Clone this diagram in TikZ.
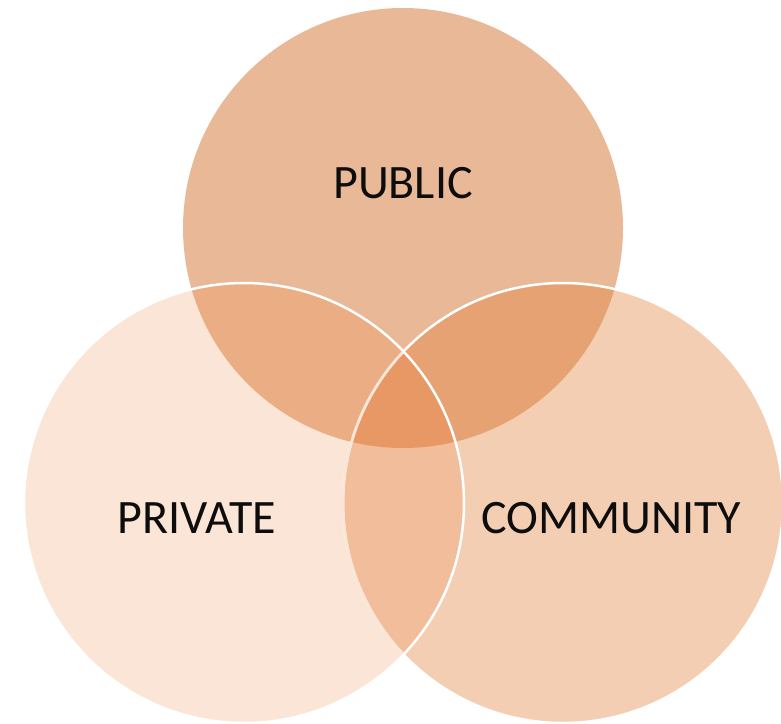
\documentclass[tikz,border=0pt]{standalone}
\usepackage{fontspec}
\setmainfont{Carlito}
\definecolor{ctop}{RGB}{233,184,150}
\definecolor{cleft}{RGB}{250,229,214}
\definecolor{cright}{RGB}{243,206,179}
\definecolor{ctl}{RGB}{234,173,132}
\definecolor{ctr}{RGB}{230,162,114}
\definecolor{clr}{RGB}{242,189,154}
\definecolor{ccenter}{RGB}{231,152,100}
\definecolor{txt}{RGB}{13,13,13}
\tikzset{
  lbl/.style={text=txt, font=\fontsize{48}{52}\selectfont, inner sep=0pt},
  rim/.style={draw=white, line width=2.5pt}
}
\begin{document}
\begin{tikzpicture}[x=1pt,y=-1pt]
\useasboundingbox (0,0) rectangle (781,723);
\coordinate (T) at (403,228);
\coordinate (L) at (244,503);
\coordinate (R) at (563,503);
\def\rr{220}
% top circle
\fill[ctop] (T) circle (\rr);
% left circle
\fill[cleft] (L) circle (\rr);
\begin{scope}
  \clip (T) circle (\rr);
  \fill[ctl] (L) circle (\rr);
\end{scope}
% right circle
\fill[cright] (R) circle (\rr);
\begin{scope}
  \clip (R) circle (\rr);
  \fill[ctr] (T) circle (\rr);
  \fill[clr] (L) circle (\rr);
  \begin{scope}
    \clip (L) circle (\rr);
    \fill[ccenter] (T) circle (\rr);
  \end{scope}
\end{scope}
% borders
\draw[rim] (R) circle (\rr);
\begin{scope}
  \clip (L) circle (\rr);
  \draw[rim, draw=cleft] (R) circle (\rr);
\end{scope}
\draw[rim] (L) circle (\rr);
% labels
\node[lbl] (pub) at (403,183) {PUBLIC};
\node[lbl] (pri) at (197,518) {PRIVATE};
\node[lbl] (com) at (611,518) {COMMUNITY};
\end{tikzpicture}
\end{document}
